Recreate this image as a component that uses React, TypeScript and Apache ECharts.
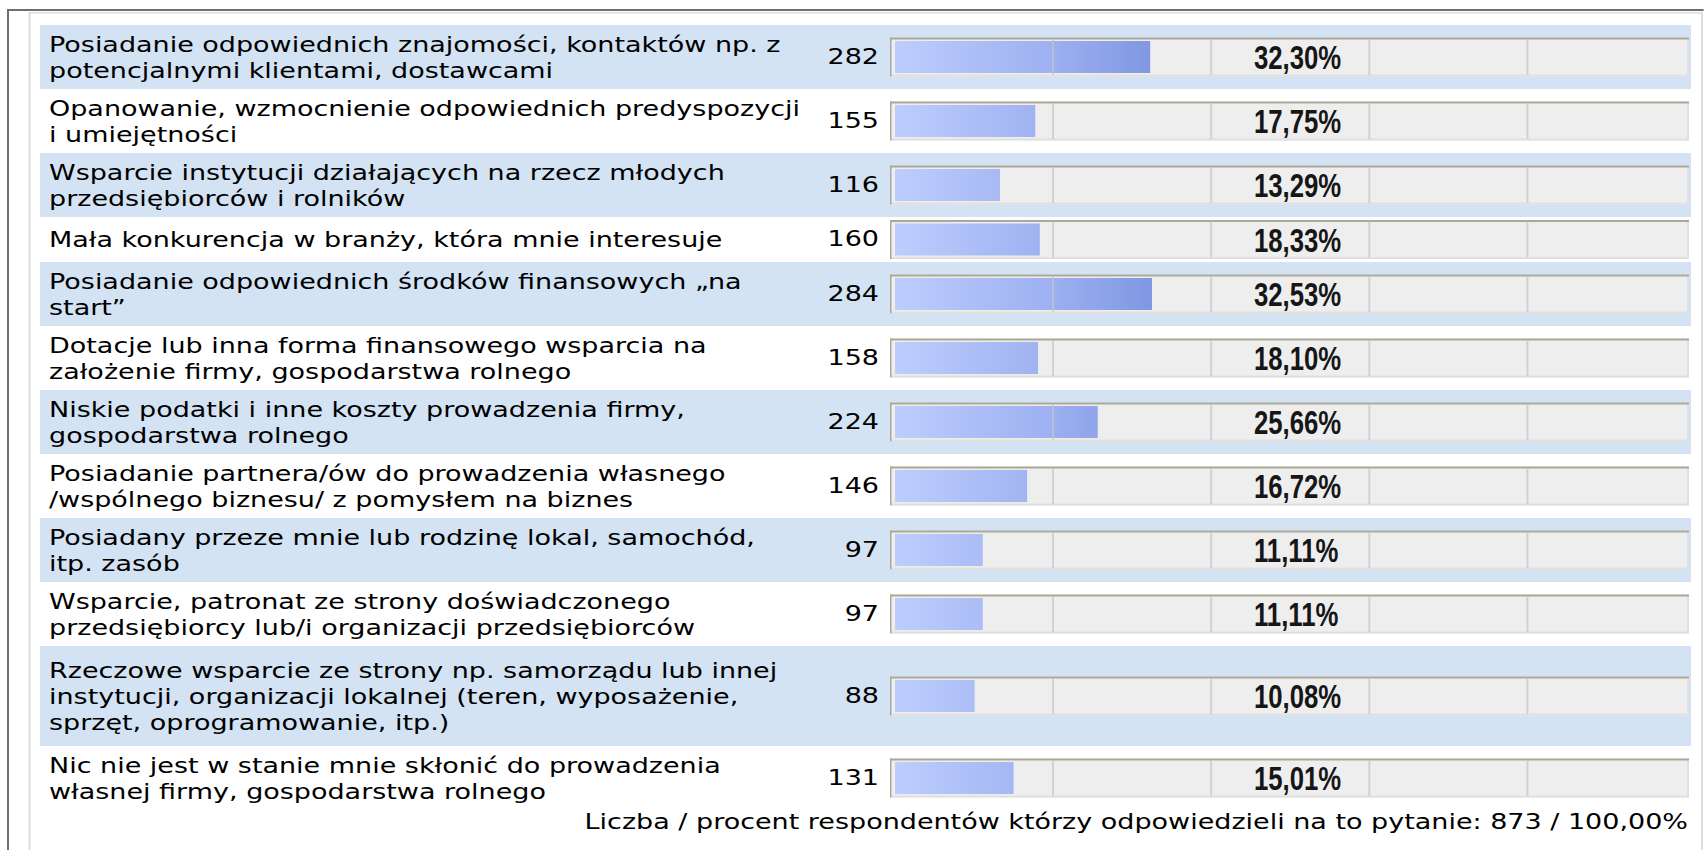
import React, { useEffect, useRef } from "react";
import * as echarts from "echarts";

// ---------------- data ----------------
const categories: string[] = [
  "Posiadanie odpowiednich znajomości, kontaktów np. z\npotencjalnymi klientami, dostawcami",
  "Opanowanie, wzmocnienie odpowiednich predyspozycji\ni umiejętności",
  "Wsparcie instytucji działających na rzecz młodych\nprzedsiębiorców i rolników",
  "Mała konkurencja w branży, która mnie interesuje",
  "Posiadanie odpowiednich środków finansowych „na\nstart”",
  "Dotacje lub inna forma finansowego wsparcia na\nzałożenie firmy, gospodarstwa rolnego",
  "Niskie podatki i inne koszty prowadzenia firmy,\ngospodarstwa rolnego",
  "Posiadanie partnera/ów do prowadzenia własnego\n/wspólnego biznesu/ z pomysłem na biznes",
  "Posiadany przeze mnie lub rodzinę lokal, samochód,\nitp. zasób",
  "Wsparcie, patronat ze strony doświadczonego\nprzedsiębiorcy lub/i organizacji przedsiębiorców",
  "Rzeczowe wsparcie ze strony np. samorządu lub innej\ninstytucji, organizacji lokalnej (teren, wyposażenie,\nsprzęt, oprogramowanie, itp.)",
  "Nic nie jest w stanie mnie skłonić do prowadzenia\nwłasnej firmy, gospodarstwa rolnego",
];
const counts: number[] = [282, 155, 116, 160, 284, 158, 224, 146, 97, 97, 88, 131];
const percents: number[] = [32.3, 17.75, 13.29, 18.33, 32.53, 18.1, 25.66, 16.72, 11.11, 11.11, 10.08, 15.01];
const footerLabel = "Liczba / procent respondentów którzy odpowiedzieli na to pytanie:";
const totalCount = 873;
const totalPercent = 100;
const axisTicks: number[] = [0, 20, 40, 60, 80, 100];

// ---------------- layout ----------------
const FS = 21; // text font size (vertical)
const S = 27 / FS; // horizontal stretch of the reference
const W = 1704;
const H = 850;
const W0 = W / S;
const X = (v: number) => v / S;
const FONT = "'DejaVu Sans', Verdana, sans-serif";
const fmtPct = (v: number) => v.toFixed(2).replace(".", ",") + "%";

const ROW_TOP0 = 25;
const rowHeightFor = (lines: number) => (lines === 1 ? 45 : lines === 2 ? 64 : 100);

const GAUGE_LEFT = 895;
const GAUGE_WIDTH = 790;
const BOX_LEFT = 890;
const BOX_RIGHT = 1689;
const BOX_H = 39;

function buildOption() {
  let y = ROW_TOP0;
  const rows = categories.map((c) => {
    const lines = c.split("\n").length;
    const h = rowHeightFor(lines);
    const r = { top: y, h, center: y + h / 2 };
    y += h;
    return r;
  });

  const graphics: any[] = [];
  // outer frame
  graphics.push(
    { type: "rect", z: 0, shape: { x: X(7), y: 9, width: X(1704 - 7), height: 2 }, style: { fill: "#6e6e6e" } },
    { type: "rect", z: 0, shape: { x: X(7), y: 9, width: X(2), height: H - 9 }, style: { fill: "#6e6e6e" } },
    { type: "rect", z: 0, shape: { x: X(28.5), y: 12, width: X(1702 - 28.5), height: 1.5 }, style: { fill: "#dcdcdc" } },
    { type: "rect", z: 0, shape: { x: X(28.5), y: 12, width: X(2), height: H - 12 }, style: { fill: "#dcdcdc" } },
    { type: "rect", z: 0, shape: { x: X(1701), y: 12, width: X(2), height: H - 12 }, style: { fill: "#dcdcdc" } }
  );

  rows.forEach((r, i) => {
    if (i % 2 === 0) {
      graphics.push({
        type: "rect",
        z: 0,
        shape: { x: X(40), y: r.top, width: X(1691 - 40), height: r.h },
        style: { fill: "#d3e3f3" },
      });
    }
    const bt = r.center - BOX_H / 2;
    const bw = BOX_RIGHT - BOX_LEFT;
    graphics.push(
      { type: "rect", z: 0, shape: { x: X(BOX_LEFT), y: bt, width: X(bw), height: BOX_H }, style: { fill: "#eeeeee" } },
      { type: "rect", z: 0, shape: { x: X(BOX_LEFT), y: bt + BOX_H - 2, width: X(bw), height: 2 }, style: { fill: "#e0e0e0" } },
      { type: "rect", z: 0, shape: { x: X(BOX_RIGHT - 2), y: bt, width: X(2), height: BOX_H }, style: { fill: "#e0e0e0" } },
      { type: "rect", z: 0, shape: { x: X(BOX_LEFT), y: bt, width: X(bw), height: 2 }, style: { fill: "#aca899" } },
      { type: "rect", z: 0, shape: { x: X(BOX_LEFT), y: bt, width: X(1.5), height: BOX_H }, style: { fill: "#a9a79c" } }
    );
    // category text
    graphics.push({
      type: "text",
      z: 10,
      x: X(49),
      y: r.center + 1,
      style: {
        text: categories[i],
        fontSize: FS,
        fontFamily: FONT,
        fill: "#000000",
        lineHeight: 26,
        align: "left",
        verticalAlign: "middle",
      },
    });
    // percent text
    graphics.push({
      type: "text",
      z: 10,
      x: X(1254),
      y: r.center + 0.5,
      scaleY: 1.7,
      style: {
        text: fmtPct(percents[i]),
        fontSize: 20,
        fontWeight: "bold",
        fontFamily: "'Liberation Sans', Arial, sans-serif",
        fill: "#161616",
        align: "left",
        verticalAlign: "middle",
      },
    });
  });

  graphics.push({
    type: "text",
    z: 10,
    x: X(1688),
    y: 822,
    style: {
      text: `${footerLabel} ${totalCount} / ${fmtPct(totalPercent)}`,
      fontSize: FS,
      fontFamily: FONT,
      fill: "#000000",
      align: "right",
      verticalAlign: "middle",
    },
  });

  const gradient = new echarts.graphic.LinearGradient(
    X(GAUGE_LEFT),
    0,
    X(GAUGE_LEFT + 0.33 * GAUGE_WIDTH),
    0,
    [
      { offset: 0, color: "#bdcdfd" },
      { offset: 0.6, color: "#9db0f0" },
      { offset: 1, color: "#7e96e2" },
    ],
    true
  );

  const grids = rows.map((r) => ({
    left: X(GAUGE_LEFT),
    width: X(GAUGE_WIDTH),
    top: r.center - 18,
    height: 36,
    containLabel: false,
  }));

  const xAxes = rows.map((_, i) => ({
    type: "value",
    gridIndex: i,
    min: axisTicks[0],
    max: axisTicks[axisTicks.length - 1],
    interval: axisTicks[1] - axisTicks[0],
    z: 3,
    axisLine: { show: false },
    axisTick: { show: false },
    axisLabel: { show: false },
    splitLine: {
      show: true,
      showMinLine: false,
      showMaxLine: false,
      lineStyle: { color: "rgba(196,196,200,0.7)", width: 1.5 },
    },
  }));

  const yAxes = rows.map((_, i) => ({
    type: "category",
    gridIndex: i,
    data: [categories[i]],
    show: false,
  }));

  const series = rows.map((_, i) => ({
    type: "bar",
    xAxisIndex: i,
    yAxisIndex: i,
    data: [percents[i]],
    barWidth: 32,
    z: 2,
    itemStyle: { color: gradient },
    label: {
      show: true,
      position: "left",
      distance: X(16),
      formatter: () => String(counts[i]),
      fontSize: FS,
      fontFamily: FONT,
      color: "#000000",
    },
  }));

  return {
    animation: false,
    backgroundColor: "#ffffff",
    grid: grids,
    xAxis: xAxes,
    yAxis: yAxes,
    series,
    graphic: { elements: graphics },
  };
}

export default function App() {
  const ref = useRef<HTMLDivElement | null>(null);
  useEffect(() => {
    if (!ref.current) return;
    const chart = echarts.init(ref.current, null, { renderer: "svg", width: W0, height: H });
    chart.setOption(buildOption() as any);
    return () => chart.dispose();
  }, []);
  return (
    <div
      ref={ref}
      style={{
        position: "absolute",
        left: 0,
        top: 0,
        width: W0,
        height: H,
        transform: `scaleX(${S})`,
        transformOrigin: "0 0",
      }}
    />
  );
}
